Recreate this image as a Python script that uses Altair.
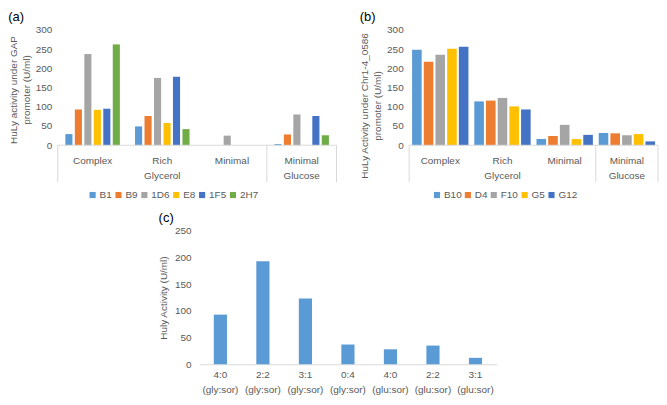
import altair as alt
import pandas as pd

# ---------------- data ----------------
cats_a = ["Complex", "Rich", "Minimal", "Minimal"]
groups_a = ["Glycerol", "Glycerol", "Glycerol", "Glucose"]
series_a = ["B1", "B9", "1D6", "E8", "1F5", "2H7"]
vals_B1 = [29, 49, 0, 3]
vals_B9 = [93, 76, 0, 28]
vals_1D6 = [237, 175, 25, 80]
vals_E8 = [92, 58, 0, 0]
vals_1F5 = [95, 178, 0, 76]
vals_2H7 = [262, 42, 0, 26]
colors_a = ["#5B9BD5", "#ED7D31", "#A5A5A5", "#FFC000", "#4472C4", "#70AD47"]

cats_b = ["Complex", "Rich", "Minimal", "Minimal"]
groups_b = ["Glycerol", "Glycerol", "Glycerol", "Glucose"]
series_b = ["B10", "D4", "F10", "G5", "G12"]
vals_B10 = [248, 114, 16, 32]
vals_D4 = [217, 116, 24, 31]
vals_F10 = [235, 123, 53, 26]
vals_G5 = [251, 101, 16, 29]
vals_G12 = [256, 93, 27, 10]
colors_b = ["#5B9BD5", "#ED7D31", "#A5A5A5", "#FFC000", "#4472C4"]

cats_c = ["4:0 (gly:sor)", "2:2 (gly:sor)", "3:1 (gly:sor)", "0:4 (gly:sor)",
          "4:0 (glu:sor)", "2:2 (glu:sor)", "3:1 (glu:sor)"]
vals_c = [93, 193, 123, 37, 28, 35, 12]

GREY = "#595959"
LINE = "#D9D9D9"
FONT = "Liberation Sans"


def grouped_panel(cats, groups, series, values, colors, ytitle, letter,
                  width, height, legend_x, pad_in, pad_out, title_y):
    keys = [f"{g}|{c}" for c, g in zip(cats, groups)]
    rows = []
    for s, vals in zip(series, values):
        for k, v in zip(keys, vals):
            rows.append({"key": k, "series": s, "value": v})
    df = pd.DataFrame(rows)

    bars = alt.Chart(df).mark_bar().encode(
        x=alt.X("key:N", sort=keys, axis=None,
                scale=alt.Scale(paddingInner=0, paddingOuter=0)),
        xOffset=alt.XOffset("series:N", sort=series,
                            scale=alt.Scale(paddingInner=pad_in, paddingOuter=pad_out)),
        y=alt.Y("value:Q", scale=alt.Scale(domain=[0, 300]),
                axis=alt.Axis(values=[0, 50, 100, 150, 200, 250, 300], title=ytitle,
                              domain=False, ticks=False, grid=False,
                              labelColor=GREY, labelFontSize=10, labelPadding=6,
                              titleColor=GREY, titleFontSize=10,
                              titleFontWeight="normal", titlePadding=4,
                              titleLineHeight=13, titleY=title_y)),
        color=alt.Color("series:N", sort=series,
                        scale=alt.Scale(domain=series, range=colors),
                        legend=alt.Legend(orient="none", legendX=legend_x,
                                          legendY=height + 45,
                                          direction="horizontal", title=None,
                                          symbolType="square", symbolSize=38,
                                          symbolStrokeWidth=0,
                                          labelFontSize=10, labelColor=GREY,
                                          columnPadding=1, labelOffset=2)),
    )

    cat_df = pd.DataFrame({"key": keys, "label": cats})
    cat_text = alt.Chart(cat_df).mark_text(fontSize=10, color=GREY, baseline="middle").encode(
        x=alt.X("key:N", sort=keys, axis=None),
        y=alt.value(height + 16),
        text="label:N",
    )
    inner = alt.layer(bars, cat_text)

    n = len(keys)
    grp_names, grp_start, grp_end = [], [], []
    for i, g in enumerate(groups):
        if grp_names and grp_names[-1] == g:
            grp_end[-1] = i + 1
        else:
            grp_names.append(g)
            grp_start.append(i)
            grp_end.append(i + 1)
    grp_df = pd.DataFrame({"group": grp_names,
                           "mid": [(a + b) / 2 for a, b in zip(grp_start, grp_end)]})
    xq = alt.Scale(domain=[0, n], nice=False, zero=False)
    grp_text = alt.Chart(grp_df).mark_text(fontSize=10, color=GREY, baseline="middle").encode(
        x=alt.X("mid:Q", scale=xq, axis=None),
        y=alt.value(height + 31),
        text="group:N",
    )
    seps = sorted(set(grp_start + grp_end))
    sep_df = pd.DataFrame({"pos": seps})
    sep_rules = alt.Chart(sep_df).mark_rule(color=LINE, strokeWidth=1).encode(
        x=alt.X("pos:Q", scale=xq, axis=None),
        y=alt.value(height),
        y2=alt.value(height + 37),
    )
    base_df = pd.DataFrame({"x0": [0], "x1": [n]})
    base_rule = alt.Chart(base_df).mark_rule(color=LINE, strokeWidth=1).encode(
        x=alt.X("x0:Q", scale=xq, axis=None),
        x2="x1:Q",
        y=alt.value(height),
    )
    annot = alt.layer(base_rule, sep_rules, grp_text)

    return alt.layer(inner, annot).resolve_scale(x="independent").properties(
        width=width, height=height,
        title=alt.TitleParams(letter, anchor="start", frame="bounds", fontSize=13,
                              fontWeight="normal", color="black", offset=1,
                              font=FONT),
    )


panel_a = grouped_panel(cats_a, groups_a, series_a,
                        [vals_B1, vals_B9, vals_1D6, vals_E8, vals_1F5, vals_2H7],
                        colors_a, ["HuLy activity under GAP", "promoter (U/ml)"], "(a)",
                        280, 116, 30, 0.25, 0.8, 60)
panel_b = grouped_panel(cats_b, groups_b, series_b,
                        [vals_B10, vals_D4, vals_F10, vals_G5, vals_G12],
                        colors_b, ["HuLy Activity under Chr1-4_0586", "promoter  (U/ml)"], "(b)",
                        250, 116, 23, 0.18, 0.25, 76)

df_c = pd.DataFrame({"cond": cats_c, "value": vals_c})
panel_c = alt.Chart(df_c).mark_bar(color="#5B9BD5").encode(
    x=alt.X("cond:N", sort=cats_c, title=None,
            scale=alt.Scale(paddingInner=0.69, paddingOuter=0.345),
            axis=alt.Axis(labelAngle=0, labelExpr="split(datum.label, ' ')",
                          domainColor=LINE, ticks=False, labelColor=GREY,
                          labelFontSize=10, labelPadding=5, labelLineHeight=15)),
    y=alt.Y("value:Q", scale=alt.Scale(domain=[0, 250]),
            axis=alt.Axis(values=[0, 50, 100, 150, 200, 250], title="Huly Activity (U/ml)",
                          domain=False, ticks=False, grid=False,
                          labelColor=GREY, labelFontSize=10, labelPadding=8,
                          titleColor=GREY, titleFontSize=10, titleFontWeight="normal",
                          titlePadding=6)),
).properties(
    width=299, height=134,
    title=alt.TitleParams("(c)", anchor="start", frame="bounds", fontSize=13,
                          fontWeight="normal", color="black", offset=1, font=FONT),
)

# empty spacer that only reserves horizontal room to the left of panel (c)
spacer = alt.Chart(pd.DataFrame({"s": [""]})).mark_text().encode(
    text="s:N"
).properties(width=101, height=1)

bottom = alt.hconcat(spacer, panel_c, spacing=0)
top = alt.hconcat(panel_a, panel_b, spacing=22).resolve_scale(
    color="independent", xOffset="independent")
chart = alt.vconcat(top, bottom, spacing=12).properties(
    padding={"left": 0, "top": 2, "right": 0, "bottom": 0}
).configure(font=FONT).configure_view(strokeWidth=0)

chart.save("out.html", embed_options={"renderer": "svg", "actions": False})
